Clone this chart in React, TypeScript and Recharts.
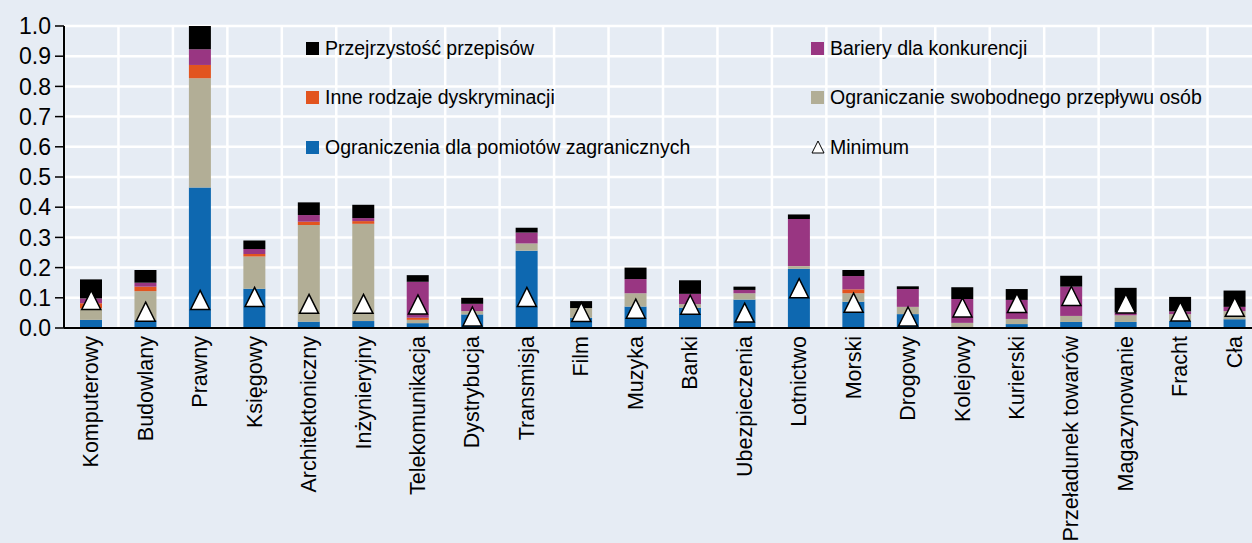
import { Bar, CartesianGrid, ComposedChart, Scatter, XAxis, YAxis } from "recharts";

const categories = [
  "Komputerowy", "Budowlany", "Prawny", "Księgowy", "Architektoniczny", "Inżynieryjny",
  "Telekomunikacja", "Dystrybucja", "Transmisja", "Film", "Muzyka", "Banki",
  "Ubezpieczenia", "Lotnictwo", "Morski", "Drogowy", "Kolejowy", "Kurierski",
  "Przeładunek towarów", "Magazynowanie", "Fracht", "Cła",
];

// segment heights, bottom to top
const zagraniczne = [0.027, 0.026, 0.465, 0.13, 0.021, 0.023, 0.016, 0.045, 0.256, 0.034, 0.071, 0.067, 0.094, 0.196, 0.087, 0.046, 0.002, 0.013, 0.02, 0.02, 0.023, 0.029];
const przeplywOsob = [0.038, 0.096, 0.362, 0.107, 0.32, 0.322, 0.011, 0.011, 0.024, 0.032, 0.044, 0.012, 0.021, 0.009, 0.028, 0.024, 0.015, 0.017, 0.02, 0.022, 0.023, 0.027];
const dyskryminacja = [0.017, 0.015, 0.044, 0.008, 0.011, 0.009, 0.007, 0, 0, 0, 0, 0, 0, 0, 0.013, 0, 0, 0, 0, 0, 0, 0];
const konkurencja = [0.016, 0.013, 0.052, 0.017, 0.022, 0.01, 0.119, 0.024, 0.036, 0, 0.047, 0.034, 0.011, 0.156, 0.044, 0.059, 0.079, 0.063, 0.097, 0.009, 0.009, 0.014];
const przejrzystosc = [0.063, 0.042, 0.077, 0.028, 0.042, 0.044, 0.022, 0.02, 0.016, 0.023, 0.038, 0.045, 0.011, 0.015, 0.02, 0.009, 0.039, 0.036, 0.036, 0.082, 0.048, 0.054];
const minimum = [0.093, 0.054, 0.093, 0.103, 0.08, 0.08, 0.078, 0.038, 0.103, 0.053, 0.064, 0.077, 0.051, 0.132, 0.084, 0.038, 0.068, 0.083, 0.106, 0.081, 0.055, 0.07];

const yTicks = [0, 0.1, 0.2, 0.3, 0.4, 0.5, 0.6, 0.7, 0.8, 0.9, 1.0];
const boundaryTicks = categories.map((_, i) => i).concat(categories.length);

const BLUE = "#0e68b0";
const TAN = "#b2ae96";
const ORANGE = "#e2541f";
const PURPLE = "#993682";
const BLACK = "#000000";
const BG = "#e6ecf4";
const FONT = "'Liberation Sans', Arial, sans-serif";

const data = categories.map((name, i) => ({
  name,
  idx: i + 0.5,
  zagraniczne: zagraniczne[i],
  przeplywOsob: przeplywOsob[i],
  dyskryminacja: dyskryminacja[i],
  konkurencja: konkurencja[i],
  przejrzystosc: przejrzystosc[i],
  minimum: minimum[i],
}));

const legendItems = [
  { label: "Przejrzystość przepisów", color: BLACK, col: 0, row: 0 },
  { label: "Bariery dla konkurencji", color: PURPLE, col: 1, row: 0 },
  { label: "Inne rodzaje dyskryminacji", color: ORANGE, col: 0, row: 1 },
  { label: "Ograniczanie swobodnego przepływu osób", color: TAN, col: 1, row: 1 },
  { label: "Ograniczenia dla pomiotów zagranicznych", color: BLUE, col: 0, row: 2 },
  { label: "Minimum", color: null, col: 1, row: 2 },
];

function Triangle(props: any) {
  const { cx, cy } = props;
  if (cx == null || cy == null) return null;
  const h = 9.5;
  return (
    <path
      d={`M${cx},${cy - h} L${cx + h},${cy + h} L${cx - h},${cy + h} Z`}
      fill="#ffffff"
      stroke="#000000"
      strokeWidth={1.5}
      strokeLinejoin="miter"
    />
  );
}

function CategoryTick(props: any) {
  const { x, y, payload } = props;
  return (
    <text
      x={x}
      y={y}
      transform={`rotate(-90 ${x} ${y})`}
      textAnchor="end"
      dominantBaseline="central"
      fontSize={21.5}
      fontFamily={FONT}
      fill="#000"
    >
      {payload.value}
    </text>
  );
}

function LegendBox() {
  return (
    <div style={{ position: "absolute", left: 0, top: 0, fontFamily: FONT, fontSize: 19.5, color: "#000" }}>
      {legendItems.map((it) => (
        <div
          key={it.label}
          style={{
            position: "absolute",
            left: it.col === 0 ? 306 : 811,
            top: 48 + it.row * 49.5 - 12,
            height: 24,
            display: "flex",
            alignItems: "center",
            whiteSpace: "nowrap",
          }}
        >
          {it.color ? (
            <span style={{ display: "inline-block", width: 13, height: 13, background: it.color, marginRight: 6 }} />
          ) : (
            <svg width={14} height={14} style={{ marginRight: 5 }}>
              <path d="M7,1 L13,13 L1,13 Z" fill="#fff" stroke="#000" strokeWidth={1} />
            </svg>
          )}
          <span>{it.label}</span>
        </div>
      ))}
    </div>
  );
}

export default function App() {
  return (
    <div style={{ position: "fixed", left: 0, top: 0, width: 1252, height: 543, overflow: "hidden", background: BG }}>
      <ComposedChart
        width={1262}
        height={543}
        data={data}
        margin={{ top: 26, right: 0, left: 0, bottom: 0 }}
        barCategoryGap={0}
      >
        <CartesianGrid xAxisId="grid" stroke="#ffffff" strokeWidth={2.5} horizontalValues={yTicks} />
        <XAxis
          xAxisId="grid"
          type="number"
          dataKey="idx"
          domain={[0, categories.length]}
          ticks={boundaryTicks}
          interval={0}
          height={0}
          axisLine={false}
          tickLine={{ stroke: "#000", strokeWidth: 1.5 }}
          tickSize={8}
          tickFormatter={() => ""}
          allowDataOverflow
        />
        <XAxis
          xAxisId="cat"
          dataKey="name"
          type="category"
          height={215}
          interval={0}
          tickLine={false}
          tickSize={0}
          tickMargin={8}
          axisLine={{ stroke: "#000", strokeWidth: 2 }}
          tick={<CategoryTick />}
        />
        <YAxis
          domain={[0, 1]}
          ticks={yTicks}
          interval={0}
          width={64}
          allowDataOverflow
          tickFormatter={(v: number) => v.toFixed(1)}
          tick={{ fontSize: 23, fontFamily: FONT, fill: "#000" }}
          tickSize={9}
          tickMargin={4}
          tickLine={{ stroke: "#000", strokeWidth: 1.5 }}
          axisLine={{ stroke: "#000", strokeWidth: 2 }}
        />
        <Bar xAxisId="cat" dataKey="zagraniczne" stackId="a" fill={BLUE} barSize={22} isAnimationActive={false} />
        <Bar xAxisId="cat" dataKey="przeplywOsob" stackId="a" fill={TAN} barSize={22} isAnimationActive={false} />
        <Bar xAxisId="cat" dataKey="dyskryminacja" stackId="a" fill={ORANGE} barSize={22} isAnimationActive={false} />
        <Bar xAxisId="cat" dataKey="konkurencja" stackId="a" fill={PURPLE} barSize={22} isAnimationActive={false} />
        <Bar xAxisId="cat" dataKey="przejrzystosc" stackId="a" fill={BLACK} barSize={22} isAnimationActive={false} />
        <Scatter xAxisId="cat" dataKey="minimum" shape={<Triangle />} isAnimationActive={false} />
      </ComposedChart>
      <LegendBox />
    </div>
  );
}
